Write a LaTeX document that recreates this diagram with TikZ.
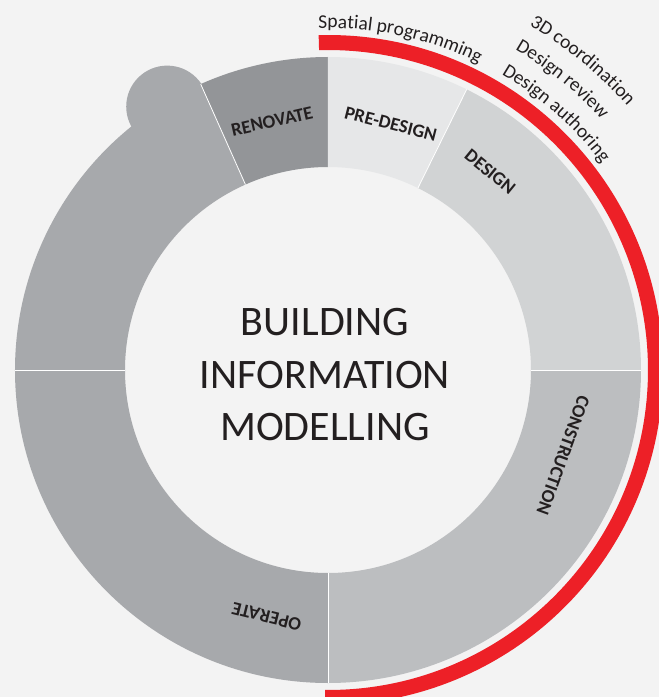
\documentclass[tikz,border=0pt]{standalone}
\usepackage{fontspec}
\setmainfont{Carlito}
\usetikzlibrary{decorations.text}
\definecolor{bimred}{HTML}{ED2027}
\definecolor{bimtext}{HTML}{231F20}
\definecolor{bimback}{HTML}{F3F3F3}
\definecolor{kten}{HTML}{E6E7E8}
\definecolor{ktwenty}{HTML}{D1D3D4}
\definecolor{kthirty}{HTML}{BCBEC0}
\definecolor{kforty}{HTML}{A7A9AC}
\definecolor{kfifty}{HTML}{939598}
\tikzset{%
  seglabel/.style={font=\fontsize{18.8}{18.8}\selectfont\bfseries, text=bimtext, inner sep=0pt},% phase name in the ring
  titleline/.style={font=\fontsize{42}{42}\selectfont, text=bimtext, anchor=base, inner sep=0pt},
  divider/.style={draw=white, line width=0.8pt},
  usecase/.style={decorate, decoration={text along path, text color=bimtext,
    text={|\fontsize{19.5}{19.5}\selectfont|#1}}}% BIM use written along the red arc
}
\newcommand*{\outerR}{313}
\newcommand*{\innerR}{203}
\newcommand*{\ringpart}[3]{% colour, from angle, to angle
  \fill[#1] (#2:\outerR) arc[start angle=#2, end angle=#3, radius=\outerR]
    -- (#3:\innerR) arc[start angle=#3, end angle=#2, radius=\innerR] -- cycle;}

\begin{document}
\begin{tikzpicture}[x=1pt, y=1pt]
\useasboundingbox (-328,-327) rectangle (331,370);
\fill[bimback] (-328,-327) rectangle (331,370);

% ring
\fill[kforty] (121.4:308.6) circle[radius=41];
\ringpart{kforty}{180}{114}
\ringpart{kfifty}{114}{90}
\ringpart{kten}{90}{63.7}
\ringpart{ktwenty}{63.7}{0}
\ringpart{kthirty}{0}{-90}
\ringpart{kforty}{-90}{-180}
\foreach \a in {114,63.7,0,-90,180}
  \draw[divider] (\a:\innerR) -- (\a:\outerR);

\node[seglabel, rotate=12.7] (renovate) at (102.7:255) {RENOVATE};
\node[seglabel, rotate=-14.3] (predesign) at (75.7:254) {PRE-DESIGN};
\node[seglabel, rotate=-39.3] (design) at (50.7:256) {DESIGN};
\node[seglabel, rotate=-109.9] (construction) at (-19.9:250) {CONSTRUCTION};
\node[seglabel, rotate=166] (operate) at (-104:254) {OPERATE};

% centre
\node[titleline] (bim1) at (-3,35) {BUILDING};
\node[titleline] (bim2) at (-3,-18.3) {INFORMATION};
\node[titleline] (bim3) at (-3,-70) {MODELLING};

% red arc and uses
\fill[bimred] (91.6:335) arc[start angle=91.6, end angle=-90.5, radius=335]
  -- (-90.5:320) arc[start angle=-90.5, end angle=91.6, radius=320] -- cycle;
\path[usecase={Spatial programming}] (91.6:342) arc[start angle=91.6, end angle=30, radius=342];
\path[usecase={Design authoring}] (59.6:343) arc[start angle=59.6, end angle=10, radius=343];
\path[usecase={Design review}] (59.7:371) arc[start angle=59.7, end angle=10, radius=371];
\path[usecase={3D coordination}] (59.7:399) arc[start angle=59.7, end angle=10, radius=399];

\end{tikzpicture}
\end{document}
